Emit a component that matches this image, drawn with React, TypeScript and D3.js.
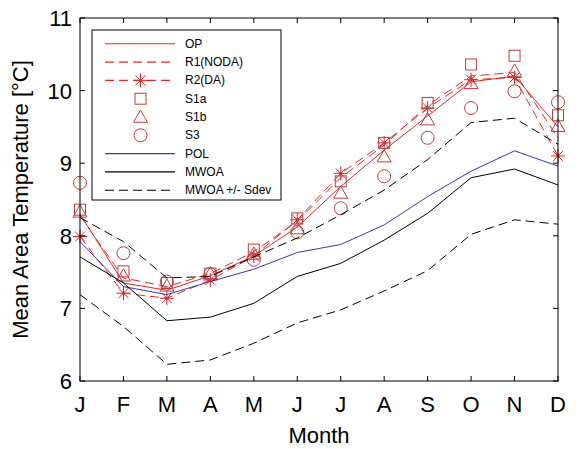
import React from "react";
import * as d3 from "d3";

const months = ["J", "F", "M", "A", "M", "J", "J", "A", "S", "O", "N", "D"];
const yTicks = [6, 7, 8, 9, 10, 11];

const OP = [8.3, 7.35, 7.25, 7.45, 7.72, 8.12, 8.68, 9.18, 9.65, 10.12, 10.2, 9.5];
const R1 = [8.28, 7.42, 7.3, 7.48, 7.78, 8.2, 8.8, 9.25, 9.8, 10.2, 10.25, 9.35];
const R2 = [7.99, 7.21, 7.14, 7.39, 7.72, 8.22, 8.86, 9.28, 9.76, 10.15, 10.18, 9.1];
const S1a = [8.36, 7.51, 7.35, 7.48, 7.81, 8.24, 8.75, 9.28, 9.83, 10.36, 10.48, 9.66];
const S1b = [8.33, 7.45, 7.31, 7.48, 7.75, 8.1, 8.59, 9.09, 9.6, 10.1, 10.27, 9.51];
const S3 = [8.73, 7.76, 7.37, 7.47, 7.67, 8.05, 8.38, 8.82, 9.35, 9.76, 9.99, 9.84];
const POL = [7.92, 7.3, 7.19, 7.37, 7.54, 7.77, 7.88, 8.15, 8.54, 8.89, 9.17, 8.96];
const MWOA = [7.71, 7.35, 6.83, 6.88, 7.07, 7.44, 7.62, 7.94, 8.31, 8.8, 8.92, 8.7];
const MWOAplus = [8.25, 7.92, 7.42, 7.44, 7.71, 7.97, 8.29, 8.63, 9.05, 9.56, 9.62, 9.26];
const MWOAminus = [7.19, 6.75, 6.23, 6.29, 6.52, 6.8, 6.98, 7.24, 7.52, 8.02, 8.22, 8.16];

const RED = "#e02828";
const MRED = "#c43a3a";
const BLUE = "#3838b0";
const FONT = "'Liberation Sans', Arial, sans-serif";

const W = 581, H = 449;
const L = 80, R = 558, T = 18, B = 381;

const idx = months.map((_, i) => i);
const x = d3.scaleLinear().domain([0, 11]).range([L, R]);
const y = d3.scaleLinear().domain([6, 11]).range([B, T]);

const line = d3.line<number>().x((_, i) => x(i)).y((v) => y(v));

function Square({ cx, cy }: { cx: number; cy: number }) {
  const s = 5.5;
  return <rect x={cx - s} y={cy - s} width={2 * s} height={2 * s} fill="none" stroke={MRED} strokeWidth={1} />;
}
function Tri({ cx, cy }: { cx: number; cy: number }) {
  const r = 7;
  const pts = [[cx, cy - r], [cx + r, cy + r * 0.75], [cx - r, cy + r * 0.75]];
  return <polygon points={pts.map((p) => p.join(",")).join(" ")} fill="none" stroke={MRED} strokeWidth={1} />;
}
function Circ({ cx, cy }: { cx: number; cy: number }) {
  return <circle cx={cx} cy={cy} r={6.5} fill="none" stroke={MRED} strokeWidth={1} />;
}
function Star({ cx, cy }: { cx: number; cy: number }) {
  const r = 7, d = 5;
  return (
    <g stroke={RED} strokeWidth={1}>
      <line x1={cx - r} y1={cy} x2={cx + r} y2={cy} />
      <line x1={cx} y1={cy - r} x2={cx} y2={cy + r} />
      <line x1={cx - d} y1={cy - d} x2={cx + d} y2={cy + d} />
      <line x1={cx - d} y1={cy + d} x2={cx + d} y2={cy - d} />
      <circle cx={cx} cy={cy} r={1.6} fill={RED} stroke="none" />
    </g>
  );
}

type Entry = { label: string; color?: string; dash?: string; marker?: string };
const legendEntries: Entry[] = [
  { label: "OP", color: RED },
  { label: "R1(NODA)", color: RED, dash: "9,5" },
  { label: "R2(DA)", color: RED, dash: "9,5", marker: "star" },
  { label: "S1a", marker: "square" },
  { label: "S1b", marker: "tri" },
  { label: "S3", marker: "circ" },
  { label: "POL", color: BLUE },
  { label: "MWOA", color: "#000" },
  { label: "MWOA +/- Sdev", color: "#000", dash: "9,5" },
];

function Marker({ kind, cx, cy }: { kind: string; cx: number; cy: number }) {
  if (kind === "square") return <Square cx={cx} cy={cy} />;
  if (kind === "tri") return <Tri cx={cx} cy={cy} />;
  if (kind === "circ") return <Circ cx={cx} cy={cy} />;
  return <Star cx={cx} cy={cy} />;
}

export default function App() {
  return (
    <svg width={W} height={H} style={{ position: "absolute", left: 0, top: 0, background: "#fff" }} fontFamily={FONT}>
      <rect x={0} y={0} width={W} height={H} fill="#fff" />
      {/* series lines */}
      <path d={line(OP) || ""} fill="none" stroke={RED} strokeWidth={1} />
      <path d={line(R1) || ""} fill="none" stroke={RED} strokeWidth={1} strokeDasharray="9,5" />
      <path d={line(R2) || ""} fill="none" stroke={RED} strokeWidth={1} strokeDasharray="9,5" />
      {R2.map((v, i) => <Star key={"r2" + i} cx={x(i)} cy={y(v)} />)}
      {S1a.map((v, i) => <Square key={"a" + i} cx={x(i)} cy={y(v)} />)}
      {S1b.map((v, i) => <Tri key={"b" + i} cx={x(i)} cy={y(v)} />)}
      {S3.map((v, i) => <Circ key={"c" + i} cx={x(i)} cy={y(v)} />)}
      <path d={line(POL) || ""} fill="none" stroke={BLUE} strokeWidth={1} />
      <path d={line(MWOA) || ""} fill="none" stroke="#000" strokeWidth={1} />
      <path d={line(MWOAplus) || ""} fill="none" stroke="#000" strokeWidth={1} strokeDasharray="9,5" />
      <path d={line(MWOAminus) || ""} fill="none" stroke="#000" strokeWidth={1} strokeDasharray="9,5" />

      {/* axes box */}
      <rect x={L} y={T} width={R - L} height={B - T} fill="none" stroke="#000" strokeWidth={1} />
      {idx.map((i) => (
        <g key={"xt" + i} stroke="#000" strokeWidth={1}>
          <line x1={x(i)} y1={B} x2={x(i)} y2={B - 5} />
          <line x1={x(i)} y1={T} x2={x(i)} y2={T + 5} />
        </g>
      ))}
      {yTicks.map((t) => (
        <g key={"yt" + t} stroke="#000" strokeWidth={1}>
          <line x1={L} y1={y(t)} x2={L + 5} y2={y(t)} />
          <line x1={R} y1={y(t)} x2={R - 5} y2={y(t)} />
        </g>
      ))}
      {months.map((m, i) => (
        <text key={"xl" + i} x={x(i)} y={412} textAnchor="middle" fontSize={22} fill="#000">{m}</text>
      ))}
      {yTicks.map((t) => (
        <text key={"yl" + t} x={72} y={y(t) + 8} textAnchor="end" fontSize={22} fill="#000">{t}</text>
      ))}
      <text x={(L + R) / 2} y={443} textAnchor="middle" fontSize={22} fill="#000">Month</text>
      <text transform={`translate(28,${(T + B) / 2}) rotate(-90)`} textAnchor="middle" fontSize={22} fill="#000">
        Mean Area Temperature [°C]
      </text>

      {/* legend */}
      <rect x={92} y={30} width={189} height={170} fill="#fff" stroke="#000" strokeWidth={1} />
      {legendEntries.map((e, i) => {
        const ly = 43.8 + i * 18.3;
        return (
          <g key={"lg" + i}>
            {e.color && (
              <line x1={105} y1={ly} x2={175} y2={ly} stroke={e.color} strokeWidth={1.1} strokeDasharray={e.dash} />
            )}
            {e.marker && <Marker kind={e.marker} cx={140.5} cy={ly} />}
            <text x={185} y={ly + 4} fontSize={12} fill="#000">{e.label}</text>
          </g>
        );
      })}
    </svg>
  );
}
